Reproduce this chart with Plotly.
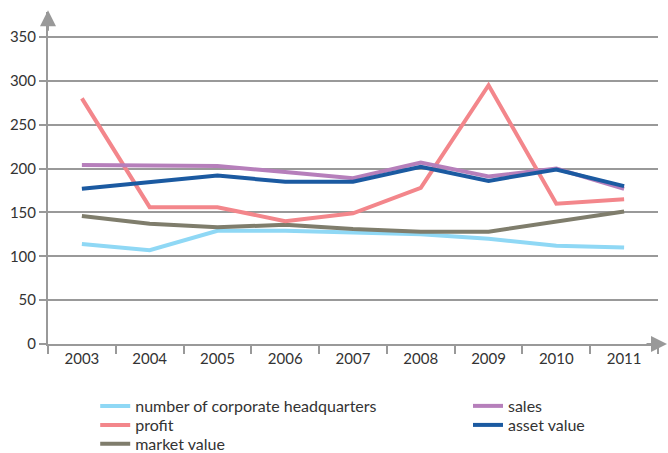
import plotly.graph_objects as go

years = ["2003", "2004", "2005", "2006", "2007", "2008", "2009", "2010", "2011"]
hq = [114, 107, 129, 129, 127, 125, 120, 112, 110]
profit = [280, 156, 156, 140, 149, 178, 295, 160, 165]
market_value = [146, 137, 133, 136, 131, 128, 128, 140, 151]
sales = [204, 203, 203, 196, 189, 207, 191, 200, 177]
asset_value = [177, 185, 192, 185, 185, 202, 186, 199, 180]

series = [
    ("number of corporate headquarters", hq, "#8fd8f5", "legend"),
    ("profit", profit, "#f3868b", "legend2"),
    ("market value", market_value, "#7f7d6c", "legend3"),
    ("sales", sales, "#b67fbb", "legend4"),
    ("asset value", asset_value, "#1b5aa1", "legend5"),
]

fig = go.Figure()
draw_order = [0, 2, 1, 3, 4]
for i in draw_order:
    name, vals, col, leg = series[i]
    fig.add_trace(go.Scatter(x=years, y=vals, name=name, mode="lines",
                             line=dict(color=col, width=4), legend=leg))

font = dict(family="Lato, Open Sans, sans-serif", size=15, color="#333333")
lfont = dict(family="Lato, Open Sans, sans-serif", size=16, color="#333333")

def leg(x, y):
    return dict(x=x, y=y, xanchor="left", yanchor="middle", font=lfont,
                itemwidth=30, bgcolor="rgba(0,0,0,0)")

x1, x2 = 0.0774, 0.6885
r1, r2, r3 = -0.1867, -0.244, -0.301
fig.update_layout(
    width=668, height=453,
    margin=dict(l=48, r=10, t=12, b=109, autoexpand=False),
    plot_bgcolor="white", paper_bgcolor="white",
    font=font,
    showlegend=True,
    legend=leg(x1, r1), legend2=leg(x1, r2), legend3=leg(x1, r3),
    legend4=leg(x2, r1), legend5=leg(x2, r2),
    xaxis=dict(type="category", showline=True, linecolor="#999999", linewidth=2,
               ticks="outside", tickson="boundaries", ticklen=8, tickcolor="#999999",
               tickwidth=1.5, showgrid=False, tickfont=font, range=[-0.5, 8.5]),
    yaxis=dict(range=[0, 378.5], tickvals=[0, 50, 100, 150, 200, 250, 300, 350],
               showline=True, linecolor="#999999", linewidth=2,
               ticks="outside", ticklen=7, tickcolor="#999999", tickwidth=1.5,
               showgrid=True, gridcolor="#999999", gridwidth=1.5,
               zeroline=False, tickfont=font),
)

fig.add_annotation(xref="paper", yref="paper", x=0, y=1.005, ax=0, ay=22,
                   showarrow=True, arrowhead=2, arrowsize=1.6, arrowwidth=2,
                   arrowcolor="#999999", text="")
fig.add_annotation(xref="paper", yref="paper", x=1.0148, y=0, ax=-22, ay=0,
                   showarrow=True, arrowhead=2, arrowsize=1.6, arrowwidth=2,
                   arrowcolor="#999999", text="")

fig.write_html("out.html")
